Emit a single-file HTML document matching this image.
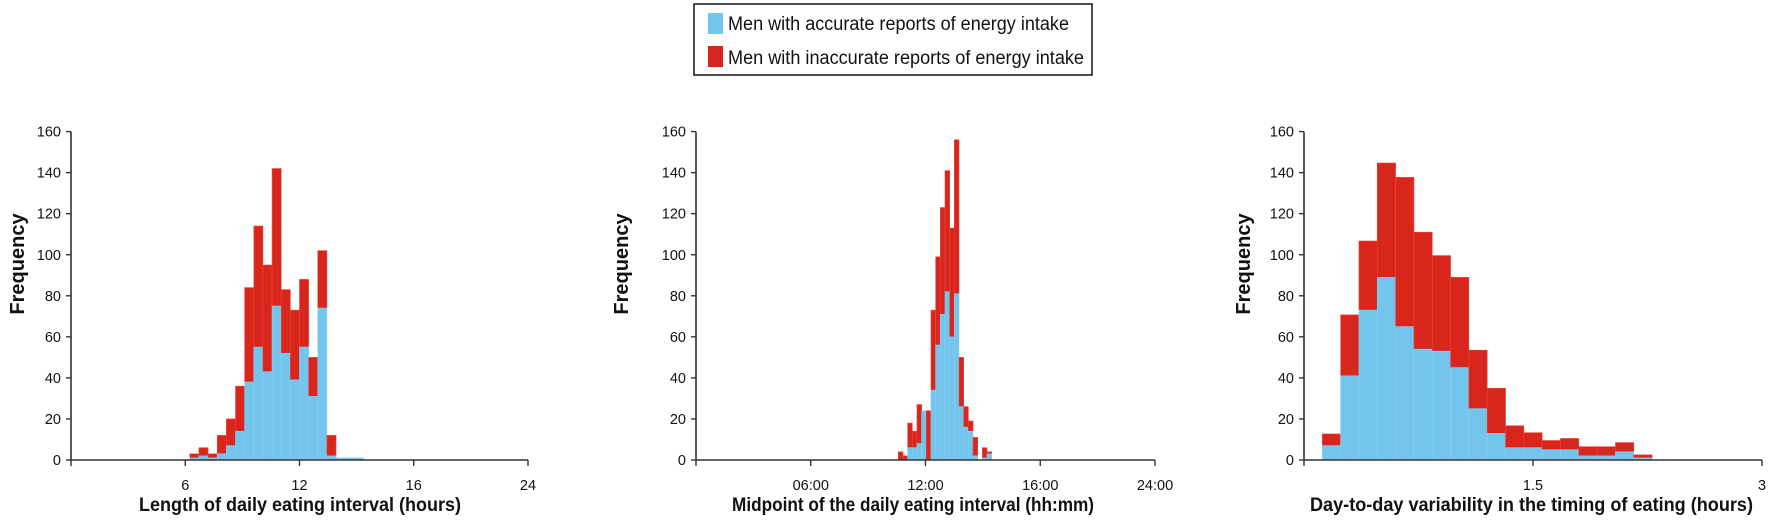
<!DOCTYPE html>
<html><head><meta charset="utf-8"><style>
html,body{margin:0;padding:0;background:#fff;width:1772px;height:522px;overflow:hidden}
svg text{font-family:"Liberation Sans",Arial,sans-serif;fill:#111}
</style></head><body>
<svg id="fig" width="1772" height="522" viewBox="0 0 1772 522" xmlns="http://www.w3.org/2000/svg">
<g>
<rect x="694" y="4" width="398" height="71" fill="#fff" stroke="#111" stroke-width="1.5"/>
<rect x="708" y="13" width="15" height="21" fill="#73c5ee"/>
<text x="728" y="30" font-size="19" textLength="341" lengthAdjust="spacingAndGlyphs">Men with accurate reports of energy intake</text>
<rect x="708" y="46" width="15" height="21" fill="#d9261c"/>
<text x="728" y="64" font-size="19" textLength="356" lengthAdjust="spacingAndGlyphs">Men with inaccurate reports of energy intake</text>
</g>
</svg>
<script>
// Chart 1: length of daily eating interval (bin index categories)
const c1Bins = [13,14,15,16,17,18,19,20,21,22,23,24,25,26,27,28,29,30,31];
const c1Accurate = [1,2,1,3,7,14,38,55,43,75,52,39,55,31,74,2,1,1,1];
const c1Total = [3,6,3,12,20,36,84,114,95,142,83,73,88,50,102,12,1,1,1];
const c1TickPos = [12.5,25,37.5,50];
const c1TickLabels = ["6","12","16","24"];
// Chart 2: midpoint of daily eating interval
const c2Bins = [0,1,2,3,4,5,6,7,8,9,10,11,12,13,14,15,16,17,18,19];
const c2Accurate = [0,0,6,6,8,24,0,34,56,71,82,60,81,26,16,14,2,0,1,3];
const c2Total = [4,2,18,14,27,24,24,73,99,123,141,113,156,50,26,19,11,0,6,4];
const c2TickPos = [1,2,3,4];
const c2TickLabels = ["06:00","12:00","16:00","24:00"];
// Chart 3: day-to-day variability (hours)
const c3BinStart = [0.12,0.24,0.36,0.48,0.60,0.72,0.84,0.96,1.08,1.20,1.32,1.44,1.56,1.68,1.80,1.92,2.04,2.16];
const c3Accurate = [7,41,73,89,65,54,53,45,25,13,6,6,5,5,2,2,4,1];
const c3Total = [12.7,70.7,106.7,144.7,137.7,111,99.6,89,53.5,35,16.7,13.3,9.5,10.5,6.5,6.5,8.5,2.5];
const c3TickPos = [1.5,3];
const c3TickLabels = ["1.5","3"];
const yTicks = [0,20,40,60,80,100,120,140,160];

const NS="http://www.w3.org/2000/svg";
const svg=document.getElementById('fig');
const BLUE="#73c5ee", RED="#d9261c";
function yScale(v){return 460 - v*2.0525;}
function mk(tag,attrs,parent){const e=document.createElementNS(NS,tag);for(const k in attrs)e.setAttribute(k,attrs[k]);(parent||svg).appendChild(e);return e;}

function drawChart(id,x0,x1,xs,binStarts,binW,acc,tot,tickPos,tickLabels,title,titleX,titleLen,freqX){
  const g=mk('g',{});
  
  
  for(let i=0;i<binStarts.length;i++){
    const xa=xs(binStarts[i]), xb=xs(binStarts[i]+binW);
    if(tot[i]>acc[i]){
      const r=mk('rect',{x:xa,y:yScale(tot[i]),width:xb-xa,height:yScale(acc[i])-yScale(tot[i]),fill:RED,stroke:"#e5493f","stroke-width":0.6},g);
      
      
    }
    if(acc[i]>0){
      const b=mk('rect',{x:xa,y:yScale(acc[i]),width:xb-xa,height:460-yScale(acc[i]),fill:BLUE,stroke:"#8ad0f2","stroke-width":0.6},g);
      
      
    }
  }
  const ax=mk('path',{d:`M${x0},${yScale(160)}V460H${x1}`,fill:"none",stroke:"#333","stroke-width":1.6},g);
  
  
  for(const v of yTicks){
    mk('line',{x1:x0-5,x2:x0,y1:yScale(v),y2:yScale(v),stroke:"#333","stroke-width":1.4},g);
    const t=mk('text',{x:x0-10,y:yScale(v)+5,"font-size":14.5,"text-anchor":"end"},g);
    t.textContent=v;
    
    
  }
  mk('line',{x1:x0,x2:x0,y1:460,y2:466,stroke:"#333","stroke-width":1.4},g);
  for(let i=0;i<tickPos.length;i++){
    const x=xs(tickPos[i]);
    mk('line',{x1:x,x2:x,y1:460,y2:466,stroke:"#333","stroke-width":1.4},g);
    const t=mk('text',{x:x,y:490,"font-size":14.5,"text-anchor":"middle"},g);
    t.textContent=tickLabels[i];
    
    
  }
  const tt=mk('text',{x:titleX,y:511,"font-size":19,"font-weight":"bold",textLength:titleLen,lengthAdjust:"spacingAndGlyphs"},g);
  tt.textContent=title;
  
  
  const ft=mk('text',{x:0,y:0,"font-size":20,"font-weight":"bold","text-anchor":"middle",transform:`translate(${freqX},264) rotate(-90)`},g);
  ft.textContent="Frequency";
  
  
}
drawChart('chart-eating-length',71,528,i=>71+i*9.14,c1Bins,1,c1Accurate,c1Total,c1TickPos,c1TickLabels,
  "Length of daily eating interval (hours)",139,322,24);
drawChart('chart-eating-midpoint',696,1155,i=>898.3+i*4.67,c2Bins,1,c2Accurate,c2Total,[],[],
  "Midpoint of the daily eating interval (hh:mm)",732,362,628);
// chart 2 ticks on their own category scale
(function(){
  const g=svg.lastChild;
  for(let i=0;i<c2TickPos.length;i++){
    const x=696+c2TickPos[i]*114.75;
    mk('line',{x1:x,x2:x,y1:460,y2:466,stroke:"#333","stroke-width":1.4},g);
    const t=mk('text',{x:x,y:490,"font-size":14.5,"text-anchor":"middle"},g);
    t.textContent=c2TickLabels[i];
    
    
  }
})();
drawChart('chart-timing-variability',1304,1762,h=>1304+h*152.67,c3BinStart,0.12,c3Accurate,c3Total,c3TickPos,c3TickLabels,
  "Day-to-day variability in the timing of eating  (hours)",1310,443,1250);
</script>
</body></html>
